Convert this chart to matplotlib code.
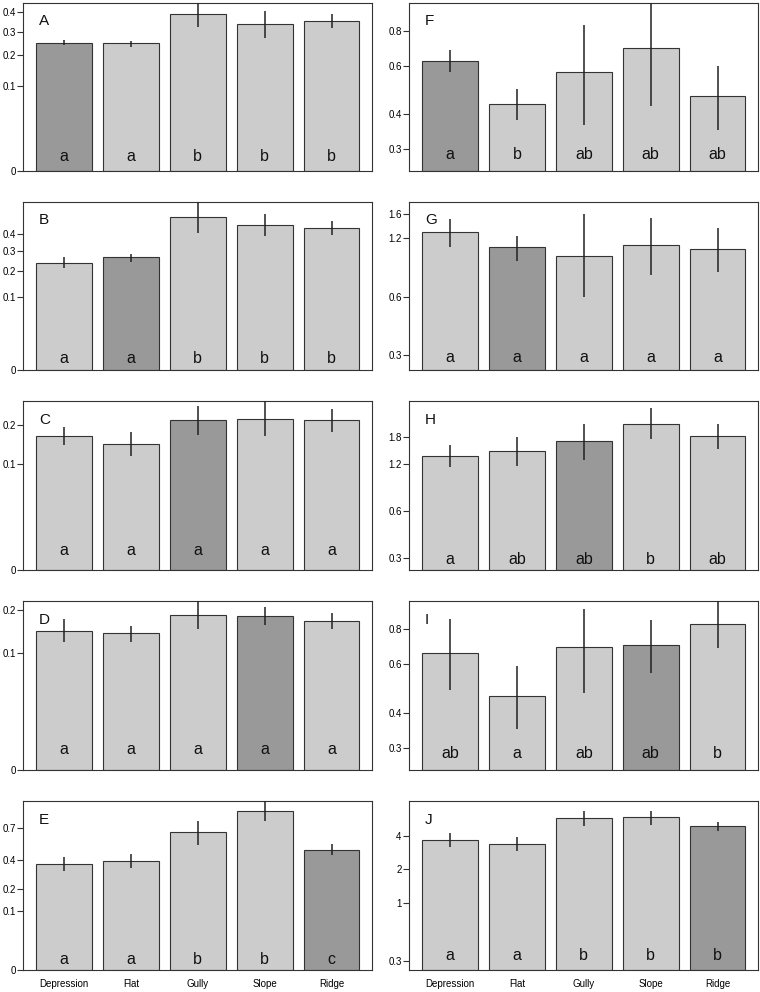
import numpy as np
import matplotlib.pyplot as plt
from matplotlib.ticker import FixedLocator, NullLocator

plt.rcParams['font.family'] = ['Liberation Sans', 'DejaVu Sans']

sites = ['Depression', 'Flat', 'Gully', 'Slope', 'Ridge']

# left column (power axis)
a_mean = [0.249, 0.247, 0.392, 0.337, 0.355]
a_lo = [0.239, 0.233, 0.324, 0.271, 0.319]
a_hi = [0.261, 0.258, 0.48, 0.41, 0.392]
a_grp = ['a', 'a', 'b', 'b', 'b']
a_ticks = [0, 0.1, 0.2, 0.3, 0.4]

b_mean = [0.238, 0.265, 0.522, 0.467, 0.447]
b_lo = [0.213, 0.243, 0.412, 0.393, 0.397]
b_hi = [0.269, 0.286, 0.66, 0.545, 0.494]
b_grp = ['a', 'a', 'b', 'b', 'b']
b_ticks = [0, 0.1, 0.2, 0.3, 0.4]

c_mean = [0.168, 0.147, 0.218, 0.221, 0.216]
c_lo = [0.145, 0.118, 0.172, 0.169, 0.181]
c_hi = [0.195, 0.179, 0.266, 0.29, 0.253]
c_grp = ['a', 'a', 'a', 'a', 'a']
c_ticks = [0, 0.1, 0.2]

d_mean = [0.147, 0.141, 0.187, 0.184, 0.172]
d_lo = [0.122, 0.122, 0.151, 0.160, 0.152]
d_hi = [0.175, 0.159, 0.23, 0.210, 0.193]
d_grp = ['a', 'a', 'a', 'a', 'a']
d_ticks = [0, 0.1, 0.2]

e_mean = [0.366, 0.392, 0.662, 0.906, 0.488]
e_lo = [0.312, 0.336, 0.528, 0.781, 0.438]
e_hi = [0.427, 0.450, 0.788, 1.05, 0.541]
e_grp = ['a', 'a', 'b', 'b', 'c']
e_ticks = [0, 0.1, 0.2, 0.4, 0.7]

# right column (log axis)
f_mean = [0.622, 0.437, 0.570, 0.695, 0.465]
f_lo = [0.570, 0.383, 0.368, 0.428, 0.352]
f_hi = [0.682, 0.494, 0.841, 1.05, 0.597]
f_grp = ['a', 'b', 'ab', 'ab', 'ab']
f_ticks = [0.3, 0.4, 0.6, 0.8]

g_mean = [1.289, 1.078, 0.977, 1.110, 1.058]
g_lo = [1.083, 0.923, 0.598, 0.776, 0.808]
g_hi = [1.516, 1.235, 1.615, 1.535, 1.358]
g_grp = ['a', 'a', 'a', 'a', 'a']
g_ticks = [0.3, 0.6, 1.2, 1.6]

h_mean = [1.359, 1.463, 1.687, 2.159, 1.808]
h_lo = [1.154, 1.172, 1.28, 1.730, 1.498]
h_hi = [1.599, 1.80, 2.18, 2.74, 2.17]
h_grp = ['a', 'ab', 'ab', 'b', 'ab']
h_ticks = [0.3, 0.6, 1.2, 1.8]

i_mean = [0.659, 0.460, 0.692, 0.704, 0.834]
i_lo = [0.486, 0.352, 0.474, 0.557, 0.685]
i_hi = [0.869, 0.589, 0.944, 0.864, 1.05]
i_grp = ['ab', 'a', 'ab', 'ab', 'b']
i_ticks = [0.3, 0.4, 0.6, 0.8]

j_mean = [3.66, 3.40, 5.80, 5.92, 4.92]
j_lo = [3.17, 2.92, 4.95, 5.09, 4.44]
j_hi = [4.23, 3.92, 6.80, 6.80, 5.34]
j_grp = ['a', 'a', 'b', 'b', 'b']
j_ticks = [0.3, 1, 2, 4]

# label, data, ticks, ylim, log?, highlighted bar, letter height, row, col
panels = [
    ('A', a_mean, a_lo, a_hi, a_grp, a_ticks, (0, 0.456), False, 0, 0.085, 0, 0),
    ('B', b_mean, b_lo, b_hi, b_grp, b_ticks, (0, 0.647), False, 1, 0.07, 1, 0),
    ('C', c_mean, c_lo, c_hi, c_grp, c_ticks, (0, 0.282), False, 2, 0.113, 2, 0),
    ('D', d_mean, d_lo, d_hi, d_grp, d_ticks, (0, 0.2255), False, 3, 0.119, 3, 0),
    ('E', e_mean, e_lo, e_hi, e_grp, e_ticks, (0, 1.038), False, 4, 0.06, 4, 0),
    ('F', f_mean, f_lo, f_hi, f_grp, f_ticks, (0.25, 1.01), True, 0, 0.10, 0, 1),
    ('G', g_mean, g_lo, g_hi, g_grp, g_ticks, (0.25, 1.86), True, 1, 0.074, 1, 1),
    ('H', h_mean, h_lo, h_hi, h_grp, h_ticks, (0.25, 3.04), True, 2, 0.06, 2, 1),
    ('I', i_mean, i_lo, i_hi, i_grp, i_ticks, (0.25, 1.01), True, 3, 0.099, 3, 1),
    ('J', j_mean, j_lo, j_hi, j_grp, j_ticks, (0.25, 8.3), True, 4, 0.085, 4, 1),
]

W, H = 760, 992
fig = plt.figure(figsize=(W / 100, H / 100), dpi=100)

col_left = [23.3, 409.3]
row_top = [2.7, 201.7, 401.3, 601.3, 801]
ax_w, ax_h = 349, 168.5

p = 0.45
def fwd(v):
    v = np.asarray(v, dtype=float)
    return np.sign(v) * np.abs(v) ** p
def inv(v):
    v = np.asarray(v, dtype=float)
    return np.sign(v) * np.abs(v) ** (1 / p)

x = 0.7 + 1.2 * np.arange(len(sites))

for lab, mean, lo, hi, grp, ticks, ylim, logy, hl, ly, r, c in panels:
    ax = fig.add_axes([col_left[c] / W, 1 - (row_top[r] + ax_h) / H, ax_w / W, ax_h / H])
    if logy:
        ax.set_yscale('log')
    else:
        ax.set_yscale('function', functions=(fwd, inv))
    base = ylim[0]
    colors = ['#999999' if k == hl else '#cccccc' for k in range(len(mean))]
    ax.bar(x, np.array(mean) - base, bottom=base, width=1.0, color=colors,
           edgecolor='#333333', linewidth=0.8, zorder=2)
    ax.vlines(x, lo, hi, color='#222222', linewidth=1.1, zorder=3)
    for xi, g in zip(x, grp):
        ax.text(xi, ly, g, transform=ax.get_xaxis_transform(), ha='center', va='center',
                fontsize=11.5, color='#111111', zorder=4)
    ax.text(0.045, 0.89, lab, transform=ax.transAxes, ha='left', va='center',
            fontsize=11, color='#111111')
    ax.set_ylim(*ylim)
    ax.set_xlim(-0.032, 6.232)
    ax.yaxis.set_major_locator(FixedLocator(ticks))
    ax.yaxis.set_minor_locator(NullLocator())
    ax.set_yticklabels([f'{t:g}' for t in ticks])
    ax.tick_params(axis='y', length=4.5, width=0.8, pad=1, labelsize=7, color='#333333')
    if r == 4:
        ax.set_xticks(x)
        ax.set_xticklabels(sites)
        ax.tick_params(axis='x', length=0, pad=7, labelsize=7)
    else:
        ax.set_xticks([])
    for s in ax.spines.values():
        s.set_color('#333333')
        s.set_linewidth(0.8)

fig.savefig('out.png', dpi=100)
